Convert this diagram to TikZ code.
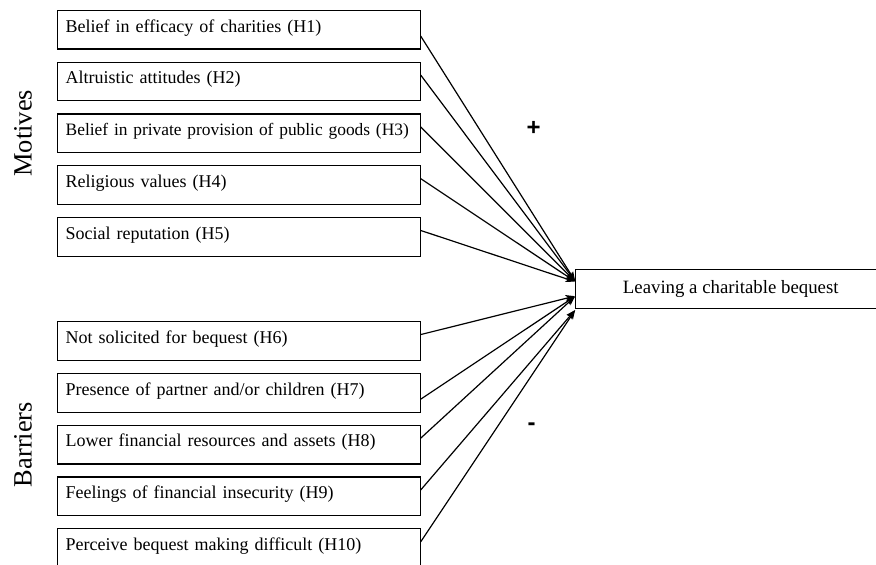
\documentclass[tikz,border=0pt]{standalone}
\usepackage{fontspec}
\setmainfont{Liberation Serif}
\newfontfamily\signfont{Liberation Sans}
\usetikzlibrary{arrows.meta,positioning,calc}

\begin{document}
\begin{tikzpicture}[x=0.5pt,y=-0.5pt,->,>={Stealth[length=4.6pt,width=3.4pt,inset=1.2pt]},
                    shorten >=0.5pt,line width=0.6pt,node distance=6.55pt]
  \tikzstyle{factor}=[rectangle,draw=black,fill=white,outer sep=0pt,text width=173.5pt,
                      inner xsep=4pt,inner ysep=0pt,text height=10.85pt,
                      text depth=8.5pt,align=left,font=\fontsize{9}{11}\selectfont]
  \tikzstyle{goal}=[rectangle,draw=black,fill=white,outer sep=0pt,minimum width=155pt,
                    minimum height=19.7pt,inner sep=0pt,font=\fontsize{9.4}{11}\selectfont]
  \tikzstyle{group}=[rotate=90,font=\fontsize{13.2}{15}\selectfont]
  \tikzstyle{sign}=[anchor=base,inner sep=0pt,font=\signfont\bfseries\fontsize{12}{14}\selectfont]

  \useasboundingbox (0,0) rectangle (876,564);
  \clip (0,0) rectangle (876,564);

  \node[factor,anchor=north west] (h1) at (57.7,10.3) {Belief in efficacy of charities (H1)};
  \node[factor] (h2) [below=of h1] {Altruistic attitudes (H2)};
  \node[factor,font=\fontsize{8.7}{11}\selectfont] (h3) [below=of h2] {Belief in private provision of public goods (H3)};
  \node[factor] (h4) [below=of h3] {Religious values (H4)};
  \node[factor] (h5) [below=of h4] {Social reputation (H5)};
  \node[factor] (h6) [below=32.7pt of h5] {Not solicited for bequest (H6)};
  \node[factor] (h7) [below=of h6] {Presence of partner and/or children (H7)};
  \node[factor] (h8) [below=of h7] {Lower financial resources and assets (H8)};
  \node[factor] (h9) [below=of h8] {Feelings of financial insecurity (H9)};
  \node[factor] (h10) [below=of h9] {Perceive bequest making difficult (H10)};

  \coordinate (gap) at ($(h5.south east)!0.5!(h6.north east)$);
  \node[goal] (bequest) [right=77.5pt of gap] {Leaving a charitable bequest};

  \node[group] (motives) at ($(h1.north west)!0.5!(h5.south west)+(-34.7,0)$) {Motives};
  \node[group] (barriers) at ($(h6.north west)!0.5!(h10.south west)+(-34.7,0)$) {Barriers};

  \node[sign] (plus) at (533.5,135) {+};
  \node[sign] (minus) at (531.7,430) {-};

  \coordinate (motin) at ([yshift=3.5pt]bequest.west);
  \coordinate (barin) at ([yshift=-3.5pt]bequest.west);
  \coordinate (barlow) at ([yshift=-10.2pt]bequest.west);

  \path ([yshift=-3.2pt]h1.east) edge (motin)
        ([yshift=3.2pt]h2.east) edge (motin)
        ([yshift=3.2pt]h3.east) edge (motin)
        ([yshift=3.2pt]h4.east) edge (motin)
        ([yshift=3.2pt]h5.east) edge (motin)
        ([yshift=3.2pt]h6.east) edge (barin)
        ([yshift=-3.2pt]h7.east) edge (barin)
        ([yshift=3.2pt]h8.east) edge (barin)
        ([yshift=3.2pt]h9.east) edge (barlow)
        ([yshift=3.2pt]h10.east) edge (barlow);
\end{tikzpicture}
\end{document}
